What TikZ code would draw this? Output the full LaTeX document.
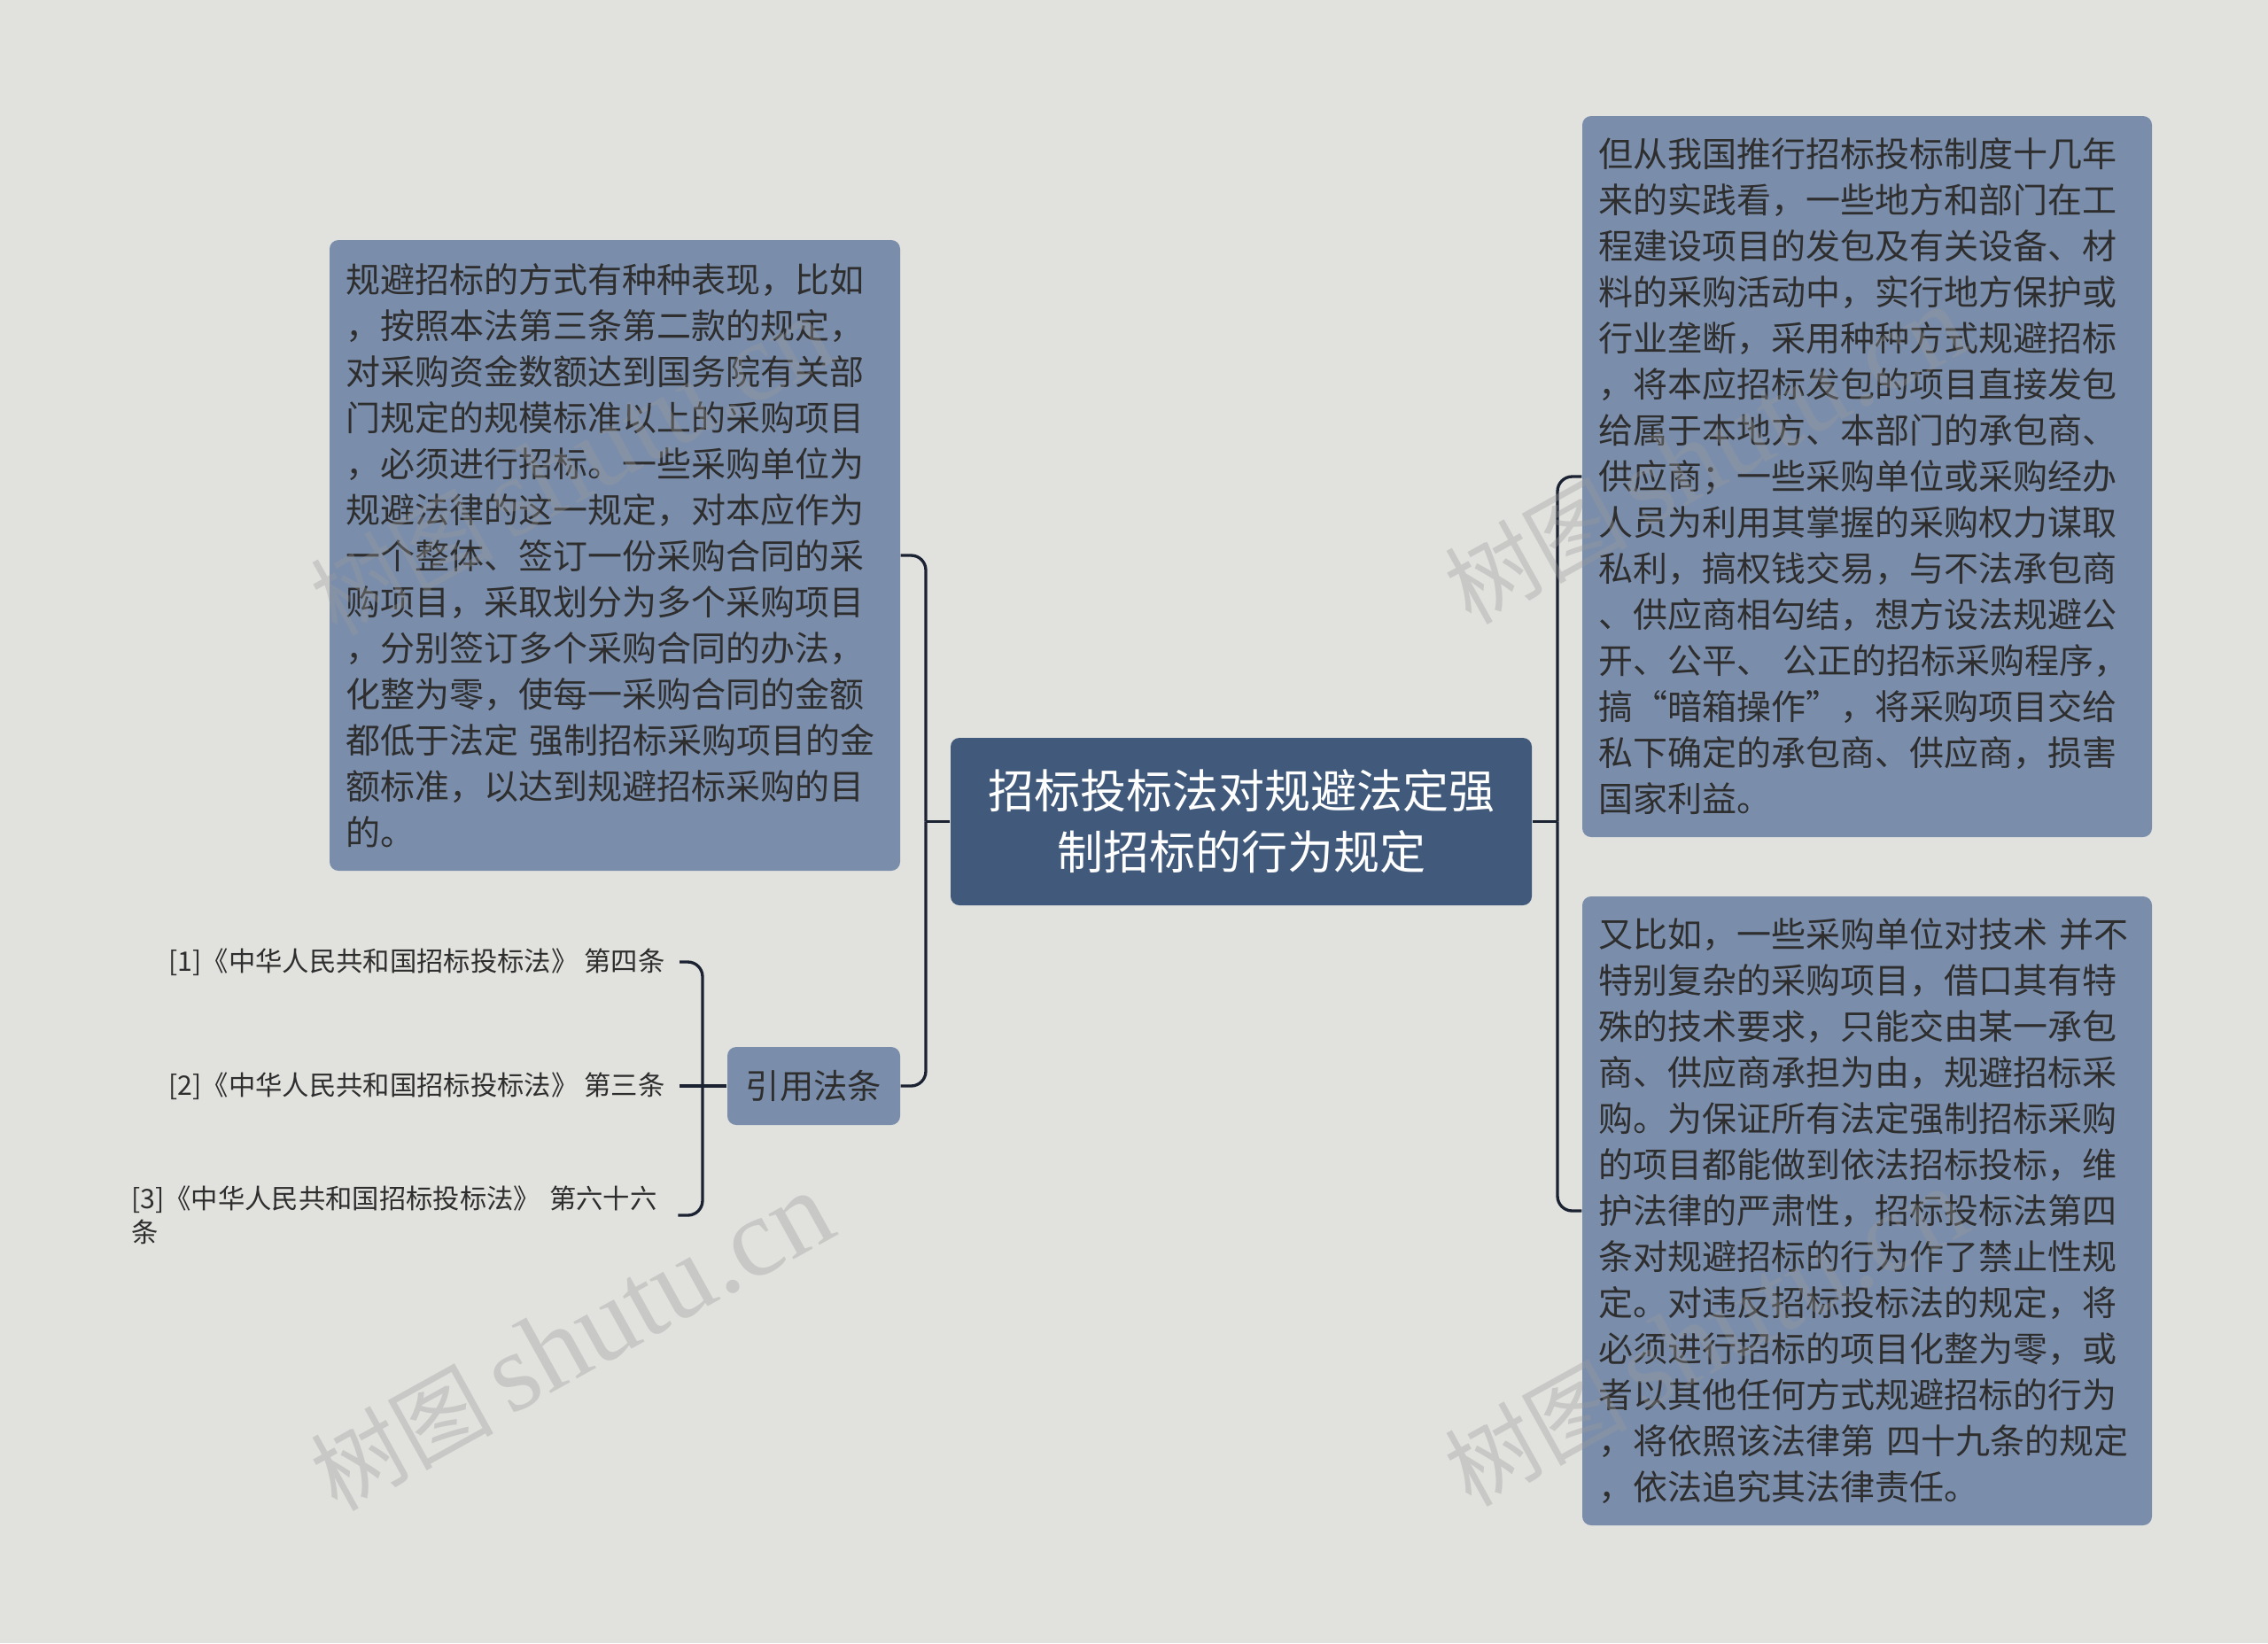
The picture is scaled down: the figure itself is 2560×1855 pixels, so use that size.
\documentclass[tikz,border=0pt]{standalone}
\usepackage{fontspec}
\newfontfamily\cjk{Noto Sans CJK SC}
\newfontfamily\wmserif{Liberation Serif}
\definecolor{bgc}{HTML}{E1E2DE}
\definecolor{boxc}{HTML}{7A8DAB}
\definecolor{rootc}{HTML}{415A7B}
\definecolor{txtc}{HTML}{2E2E2E}
\definecolor{linec}{HTML}{1B2232}
\definecolor{wmc}{HTML}{9A9A9A}
\begin{document}
\begin{tikzpicture}[x=0.3pt,y=-0.3pt,
  textbox/.style={rounded corners=3pt, fill=boxc, text=txtc, align=left,
    inner xsep=5.4pt, inner ysep=0pt, text width=182.4pt,
    font=\cjk\fontsize{11.7}{15.6}\selectfont},
  rootbox/.style={rounded corners=3pt, fill=rootc, text=white, align=center,
    inner sep=0pt, minimum width=196.8pt, minimum height=56.7pt,
    font=\cjk\fontsize{15.6}{20.7}\selectfont},
  citebox/.style={rounded corners=3pt, fill=boxc, text=txtc, align=center,
    inner sep=0pt, minimum width=58.5pt, minimum height=26.4pt,
    font=\cjk\fontsize{11.5}{14}\selectfont},
  leaf/.style={text=txtc, inner xsep=4.8pt, inner ysep=0pt,
    font=\cjk\fontsize{9.1}{11.4}\selectfont},
  conn/.style={draw=linec, line width=1pt, rounded corners=5pt},
  wm/.style={text=wmc, opacity=0.35, rotate=29, inner sep=0pt}
]
\fill[bgc] (0,0) rectangle (2560,1855);
\useasboundingbox (0,0) rectangle (2560,1855);

% root
\node[rootbox] (root) at (1401,927.5) {招标投标法对规避法定强\\制招标的行为规定};

% left top box
\node[textbox, minimum height=213.6pt] (lt) at (694,627) {规避招标的方式有种种表现，比如\\
，按照本法第三条第二款的规定，\\
对采购资金数额达到国务院有关部\\
门规定的规模标准以上的采购项目\\
，必须进行招标。一些采购单位为\\
规避法律的这一规定，对本应作为\\
一个整体、签订一份采购合同的采\\
购项目，采取划分为多个采购项目\\
，分别签订多个采购合同的办法，\\
化整为零，使每一采购合同的金额\\
都低于法定 强制招标采购项目的金\\
额标准，以达到规避招标采购的目\\
的。};

% cite box
\node[citebox] (cite) at (918.5,1226) {引用法条};

% right top box
\node[textbox, text width=182.1pt, minimum height=244.2pt] (rt) at (2107.5,538) {但从我国推行招标投标制度十几年\\
来的实践看，一些地方和部门在工\\
程建设项目的发包及有关设备、材\\
料的采购活动中，实行地方保护或\\
行业垄断，采用种种方式规避招标\\
，将本应招标发包的项目直接发包\\
给属于本地方、本部门的承包商、\\
供应商；一些采购单位或采购经办\\
人员为利用其掌握的采购权力谋取\\
私利，搞权钱交易，与不法承包商\\
、供应商相勾结，想方设法规避公\\
开、公平、 公正的招标采购程序，\\
搞“暗箱操作”，将采购项目交给\\
私下确定的承包商、供应商，损害\\
国家利益。};

% right bottom box
\node[textbox, text width=182.1pt, minimum height=213pt] (rbx) at (2107.5,1367) {又比如，一些采购单位对技术 并不\\
特别复杂的采购项目，借口其有特\\
殊的技术要求，只能交由某一承包\\
商、供应商承担为由，规避招标采\\
购。为保证所有法定强制招标采购\\
的项目都能做到依法招标投标，维\\
护法律的严肃性，招标投标法第四\\
条对规避招标的行为作了禁止性规\\
定。对违反招标投标法的规定，将\\
必须进行招标的项目化整为零，或\\
者以其他任何方式规避招标的行为\\
，将依照该法律第 四十九条的规定\\
，依法追究其法律责任。};

% leaves
\node[leaf, anchor=east] (l1) at (767,1086) {[1]《中华人民共和国招标投标法》 第四条};
\node[leaf, anchor=east] (l2) at (767,1226) {[2]《中华人民共和国招标投标法》 第三条};
\node[leaf, anchor=west, align=left, inner xsep=1pt, text width=184pt] (l3) at (144,1372) {[3]《中华人民共和国招标投标法》 第六十六\\条};

% connectors
\coordinate (lb) at (1045,927.5);
\coordinate (rb) at (1758,927.5);
\coordinate (cb) at (793,1226);
\draw[conn] (root.west) -- (lb);
\draw[conn] (lt.east) -| (lb);
\draw[conn] (cite.east) -| (lb);
\draw[conn] (root.east) -- (rb);
\draw[conn] (rt.west) -| (rb);
\draw[conn] (rbx.west) -| (rb);
\draw[conn] (cite.west) -- (cb);
\draw[conn] (l1.east) -| (cb);
\draw[conn] (l2.east) -- (cb);
\draw[conn] (l3.east) -| (cb);

% watermarks
\node[wm] (wm1) at (645,1515) {\cjk\fontsize{31}{33}\selectfont 树图\,\wmserif\fontsize{38}{40}\selectfont shutu.cn};
\node[wm] (wm2) at (645,527) {\cjk\fontsize{31}{33}\selectfont 树图\,\wmserif\fontsize{38}{40}\selectfont shutu.cn};
\node[wm] (wm3) at (1925,514) {\cjk\fontsize{31}{33}\selectfont 树图\,\wmserif\fontsize{38}{40}\selectfont shutu.cn};
\node[wm] (wm4) at (1925,1510) {\cjk\fontsize{31}{33}\selectfont 树图\,\wmserif\fontsize{38}{40}\selectfont shutu.cn};
\end{tikzpicture}
\end{document}
